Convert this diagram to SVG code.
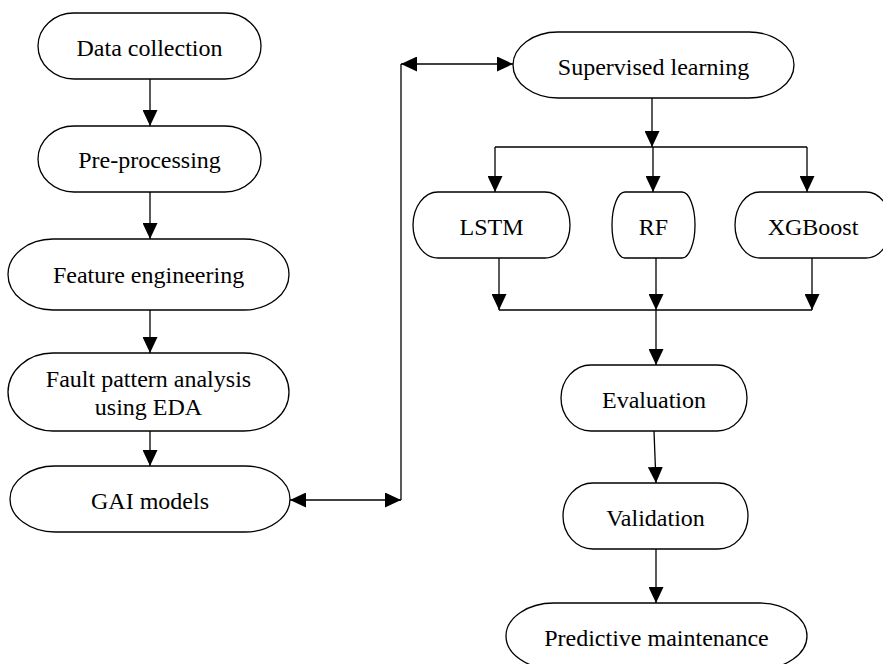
<svg xmlns="http://www.w3.org/2000/svg" width="883" height="664" viewBox="0 0 883 664">
<defs>
<marker id="ah" markerUnits="userSpaceOnUse" markerWidth="16" markerHeight="15" refX="16" refY="7.5" orient="auto-start-reverse">
<path d="M0,0 L16,7.5 L0,15 z" fill="#000"/>
</marker>
</defs>
<style>
.n{fill:#fff;stroke:#000;stroke-width:1.3}
.t{font-family:"Liberation Serif","Times New Roman",serif;font-size:24px;fill:#000;text-anchor:middle}
.c line,.c polyline{stroke:#000;stroke-width:1.3;fill:none}
.a{marker-end:url(#ah)}
.d{marker-start:url(#ah);marker-end:url(#ah)}
</style>
<rect width="883" height="664" fill="#fff"/>
<g class="c" id="connectors">
<line class="a" x1="150" y1="79" x2="150" y2="126"/>
<line class="a" x1="150" y1="192" x2="150" y2="239"/>
<line class="a" x1="150" y1="310" x2="150" y2="353"/>
<line class="a" x1="150" y1="431" x2="150" y2="466"/>
<line class="d" x1="290" y1="500" x2="401" y2="500"/>
<line x1="401" y1="500" x2="401" y2="64"/>
<line class="d" x1="401" y1="64" x2="513" y2="64"/>
<line class="a" x1="652" y1="98" x2="652" y2="147"/>
<line x1="495" y1="147" x2="807" y2="147"/>
<line class="a" x1="495" y1="147" x2="495" y2="192"/>
<line class="a" x1="653" y1="147" x2="653" y2="192"/>
<line class="a" x1="807" y1="147" x2="807" y2="192"/>
<line class="a" x1="499" y1="258" x2="499" y2="310"/>
<line class="a" x1="656" y1="258" x2="656" y2="310"/>
<line class="a" x1="812" y1="258" x2="812" y2="310"/>
<line x1="499" y1="310" x2="812" y2="310"/>
<line class="a" x1="656" y1="310" x2="656" y2="365"/>
<line class="a" x1="654" y1="431" x2="656" y2="483"/>
<line class="a" x1="656" y1="549" x2="656" y2="603"/>
</g>
<g id="data-collection"><rect class="n" x="38" y="13" width="223" height="66" rx="36" ry="33"/><text class="t" x="149.5" y="56">Data collection</text></g>
<g id="pre-processing"><rect class="n" x="38" y="126" width="223" height="66" rx="36" ry="33"/><text class="t" x="149.5" y="168">Pre-processing</text></g>
<g id="feature-engineering"><rect class="n" x="8" y="239" width="281" height="71" rx="45" ry="35.5"/><text class="t" x="148.5" y="283">Feature engineering</text></g>
<g id="fault-pattern"><rect class="n" x="8" y="353" width="281" height="78" rx="45" ry="39"/><text class="t" x="148.5" y="387">Fault pattern analysis</text><text class="t" x="148.5" y="415">using EDA</text></g>
<g id="gai-models"><rect class="n" x="10" y="466" width="280" height="66" rx="45" ry="33"/><text class="t" x="150" y="509">GAI models</text></g>
<g id="supervised-learning"><rect class="n" x="513" y="32" width="281" height="66" rx="45" ry="33"/><text class="t" x="653.5" y="75">Supervised learning</text></g>
<g id="lstm"><rect class="n" x="413" y="192" width="157" height="66" rx="25" ry="33"/><text class="t" x="491.5" y="235">LSTM</text></g>
<g id="rf"><rect class="n" x="612" y="192" width="83" height="66" rx="13" ry="33"/><text class="t" x="653.5" y="235">RF</text></g>
<g id="xgboost"><rect class="n" x="735" y="192" width="156" height="66" rx="25" ry="33"/><text class="t" x="813" y="235">XGBoost</text></g>
<g id="evaluation"><rect class="n" x="561" y="365" width="186" height="66" rx="30" ry="33"/><text class="t" x="654" y="408">Evaluation</text></g>
<g id="validation"><rect class="n" x="563" y="483" width="185" height="66" rx="30" ry="33"/><text class="t" x="655.5" y="526">Validation</text></g>
<g id="predictive-maintenance"><rect class="n" x="506" y="603" width="301" height="66" rx="48" ry="33"/><text class="t" x="656.5" y="646">Predictive maintenance</text></g>
</svg>
